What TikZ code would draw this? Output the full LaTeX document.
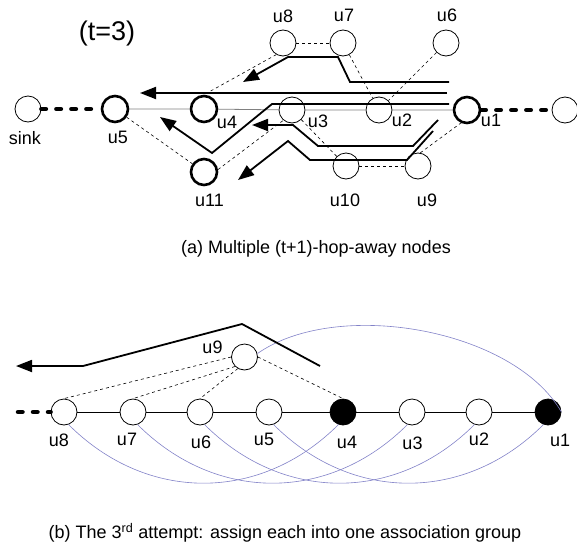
\documentclass[tikz,border=0pt]{standalone}
\usepackage{fontspec}
\setmainfont{Liberation Sans}
\usepackage{tikz}
\usetikzlibrary{arrows.meta}
\definecolor{arcblue}{RGB}{130,130,200}
\newcommand{\lblsize}{\fontsize{18}{20}\selectfont}

\tikzset{
  nd/.style={circle,draw,minimum size=26pt,inner sep=0pt,line width=0.8pt},
  thk/.style={nd,line width=2.6pt},
  blk/.style={nd,fill=black},
  lbl/.style={font=\lblsize,inner sep=0pt},
  link/.style={dashed,line width=0.6pt},
  hop/.style={line width=4.5pt,line cap=round,dash pattern=on 4.5pt off 10.5pt},
  route/.style={line width=1.8pt,-{Triangle[length=16pt,width=12pt]}},
  assoc/.style={draw=arcblue,line width=0.6pt}
}

\begin{document}
\begin{tikzpicture}[x=1pt,y=1pt]
        \useasboundingbox (0,0) rectangle (577,-546);
        % (a) multiple hops away
        \node[nd] (sink) at (28,-109) {};
        \node[thk] (a5) at (115,-109) {};
        \node[thk] (a4) at (204,-109) {};
        \node[nd] (a3) at (292,-110) {};
        \node[nd] (a2) at (379,-110) {};
        \node[thk] (a1) at (467,-110) {};
        \node[nd] (nxt) at (565,-110) {};
        \node[nd] (a8) at (283,-43) {};
        \node[nd] (a7) at (343,-43) {};
        \node[nd] (a6) at (446,-43) {};
        \node[thk] (a11) at (204,-172) {};
        \node[nd] (a10) at (346,-166) {};
        \node[nd] (a9) at (418,-166) {};
        \node[lbl] (lsink) at (25,-138.5) {sink};
        \node[lbl] (la5) at (118,-137.5) {u5};
        \node[lbl] (la4) at (227,-122.5) {u4};
        \node[lbl] (la3) at (318,-121) {u3};
        \node[lbl] (la2) at (402,-120.5) {u2};
        \node[lbl] (la1) at (491,-120.5) {u1};
        \node[lbl] (la8) at (283,-16) {u8};
        \node[lbl] (la7) at (344,-15) {u7};
        \node[lbl] (la6) at (447,-15) {u6};
        \node[lbl] (la11) at (209.5,-200.5) {u11};
        \node[lbl] (la10) at (345,-200) {u10};
        \node[lbl] (la9) at (427,-200) {u9};
        \node[lbl,font=\fontsize{27}{30}\selectfont] (tval) at (107,-34) {(t=3)};
        \draw[hop] (sink) -- (a5);
        \draw[hop] (a1) -- (nxt);
        \draw[gray,line width=0.8pt] (a5) -- (a4) -- (a3) -- (a2) -- (a1);
        \draw[link] (a8) -- (a7);
        \draw[link] (a8.240) -- (a4.north);
        \draw[link] (a7) -- (a2);
        \draw[link] (a6) -- (a2);
        \draw[link] (a5) -- (a11);
        \draw[link] (a11.10) -- (a3.230);
        \draw[link] (a3) -- (a10);
        \draw[link] (a10) -- (a9);
        \draw[link] (a9.80) -- (a1.245);
        \draw[route] (449,-82) -- (350,-82) -- (338,-57) -- (288,-57) -- (243,-82);
        \draw[route] (447,-93) -- (140,-93);
        \draw[route] (449,-104) -- (272,-104) -- (212,-153) -- (160,-117);
        \draw[route] (438,-120) -- (413,-146) -- (318,-146) -- (293,-125) -- (252,-125);
        \draw[route] (433,-131) -- (407,-160) -- (310,-160) -- (288,-141) -- (238,-180);
        \node[lbl] (capa) at (316,-248.5) {(a) Multiple (t+1)-hop-away nodes};

        % (b) third attempt
        \foreach \n/\x in {8/64,7/133,6/200,5/269,3/412,2/479}
            \node[nd] (b\n) at (\x,-412) {};
        \node[blk] (b4) at (343,-412) {};
        \node[blk] (b1) at (548,-412) {};
        \node[nd] (b9) at (244.5,-357) {};
        \coordinate (b0) at (18,-412);
        \draw[line width=0.8pt] (b8) -- (b7) -- (b6) -- (b5) -- (b4) -- (b3) -- (b2) -- (b1);
        \draw[hop] (b0) -- (b8.west);
        \draw[link] (b9.west) -- (b8.north);
        \draw[link] (b9.225) -- (b7.north);
        \draw[link] (b9.240) -- (b6.north);
        \draw[link] (b9.east) -- (b4.north);
        \foreach \s/\t in {8/4,7/3,6/2,5/1}
            \draw[assoc] (b\s.-70) to[out=-45,in=-135,looseness=1.05] (b\t.-110);
        \draw[assoc] (b9.15) to[out=35,in=120,looseness=0.8] (b1.east);
        \draw[route] (320,-366) -- (242,-324) -- (83,-366) -- (16,-366);
        \foreach \n/\x/\y in {8/59/440,7/127/439,6/201/442,5/264/439,4/347/442,3/412.5/443,2/479/439,1/560/440}
            \node[lbl] (lb\n) at (\x,-\y) {u\n};
        \node[lbl] (lb9) at (212.5,-347) {u9};
        \node[lbl] (capb) at (285,-533) {(b) The 3\textsuperscript{rd} attempt: assign each into one association group};
\end{tikzpicture}
\end{document}
